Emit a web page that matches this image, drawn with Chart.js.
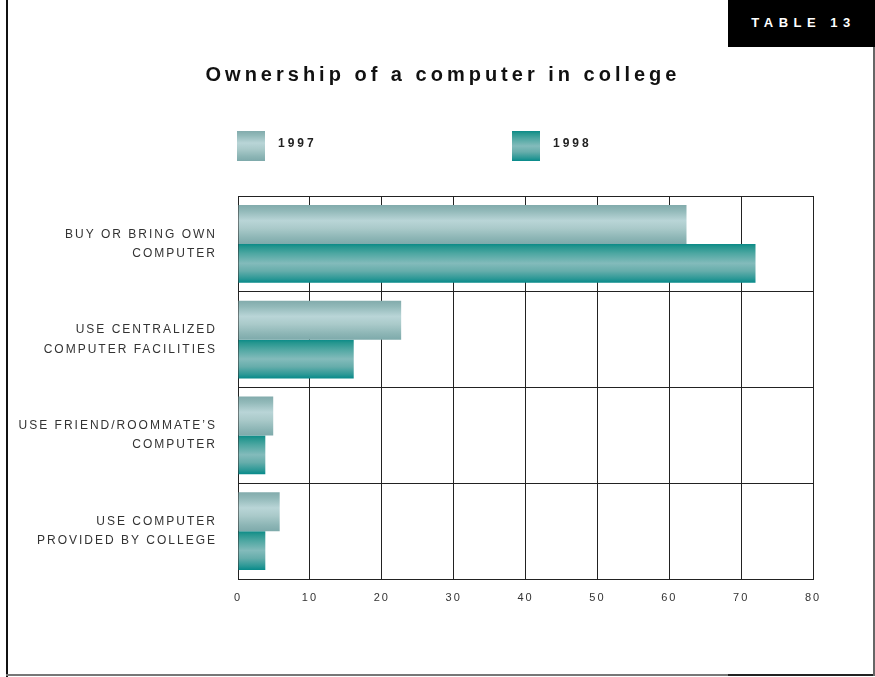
<!DOCTYPE html>
<html>
<head>
<meta charset="utf-8">
<script src="https://cdn.jsdelivr.net/npm/chart.js@4"></script>
<style>
  html, body { margin: 0; padding: 0; background: #fff; }
  #page { position: relative; width: 875px; height: 677px; overflow: hidden; font-family: 'Liberation Sans', Arial, sans-serif; }
  #page canvas { position: absolute; left: 0; top: 0; }
  .frame-left { position: absolute; left: 6px; top: 0; width: 2px; height: 677px; background: #111; }
  .frame-bottom { position: absolute; left: 6px; top: 674px; width: 722px; height: 2px; background: #777; }
  .frame-bottom2 { position: absolute; left: 728px; top: 674px; width: 147px; height: 2px; background: #222; }
  .frame-right { position: absolute; left: 873px; top: 47px; width: 2px; height: 629px; background: #666; }
  .tag { position: absolute; left: 728px; top: 0; width: 147px; height: 47px; background: #000; color: #fff;
         font-weight: bold; font-size: 13px; letter-spacing: 5.5px; line-height: 46px; text-align: center; text-indent: 4px; }
  .title { position: absolute; left: 0; width: 886px; top: 63px; text-align: center; font-weight: bold;
           font-size: 20px; letter-spacing: 4px; color: #111; }
  .legend { position: absolute; top: 131px; height: 30px; display: flex; align-items: flex-start; }
  .legend .sw { width: 28px; height: 30px; margin-right: 13px; }
  .legend span { font-weight: bold; font-size: 12px; letter-spacing: 3px; color: #222; margin-top: 5px; }
</style>
</head>
<body>
<div id="page">
  <canvas id="chart" width="875" height="677"></canvas>
  <div class="frame-left"></div>
  <div class="frame-bottom"></div>
  <div class="frame-bottom2"></div>
  <div class="frame-right"></div>
  <div class="tag">TABLE 13</div>
  <div class="title">Ownership of a computer in college</div>
  <div class="legend" style="left:237px"><div class="sw" id="sw0"></div><span id="lg0"></span></div>
  <div class="legend" style="left:512px"><div class="sw" id="sw1"></div><span id="lg1"></span></div>
</div>
<script>
const categories = [
  ['BUY OR BRING OWN', 'COMPUTER'],
  ['USE CENTRALIZED', 'COMPUTER FACILITIES'],
  ['USE FRIEND/ROOMMATE\u2019S', 'COMPUTER'],
  ['USE COMPUTER', 'PROVIDED BY COLLEGE']
];
const seriesNames = ['1997', '1998'];
const values1997 = [62.4, 22.7, 4.9, 5.8];
const values1998 = [72.0, 16.1, 3.8, 3.8];
const xTicks = [0, 10, 20, 30, 40, 50, 60, 70, 80];

// gradient stops per series (top -> bottom of each bar)
const stops = [
  [[0, '#82abac'], [0.15, '#92b9b9'], [0.4, '#b9d5d7'], [0.6, '#aacaca'], [0.85, '#8cb5b5'], [1, '#7eaaab']],
  [[0, '#0a8a87'], [0.08, '#25968f'], [0.25, '#4ea7a2'], [0.5, '#83bbbb'], [0.7, '#66adab'], [0.9, '#2b9896'], [1, '#078a8a']]
];

stops.forEach((s, i) => {
  document.getElementById('sw' + i).style.background =
    'linear-gradient(to bottom, ' + s.map(p => p[1] + ' ' + (p[0] * 100) + '%').join(', ') + ')';
  document.getElementById('lg' + i).textContent = seriesNames[i];
});

const barGradient = {
  id: 'barGradient',
  beforeDraw(chart) {
    chart.ctx.letterSpacing = '2px';
  },
  beforeDatasetsDraw(chart) {
    const ctx = chart.ctx;
    chart.data.datasets.forEach((ds, i) => {
      chart.getDatasetMeta(i).data.forEach(el => {
        const top = el.y - el.height / 2;
        const g = ctx.createLinearGradient(0, top, 0, top + el.height);
        stops[i].forEach(p => g.addColorStop(p[0], p[1]));
        el.options.backgroundColor = g;
      });
    });
  }
};

new Chart(document.getElementById('chart'), {
  type: 'bar',
  data: {
    labels: categories,
    datasets: [
      { label: seriesNames[0], data: values1997, backgroundColor: () => '#9cc' },
      { label: seriesNames[1], data: values1998, backgroundColor: () => '#199' }
    ]
  },
  options: {
    indexAxis: 'y',
    responsive: false,
    animation: false,
    events: [],
    categoryPercentage: 0.81,
    barPercentage: 1.0,
    layout: { padding: { top: 196, right: 62, bottom: 0, left: 0 } },
    plugins: { legend: { display: false }, tooltip: { enabled: false } },
    scales: {
      x: {
        min: 0, max: 80,
        afterBuildTicks: s => { s.ticks = xTicks.map(v => ({ value: v })); },
        afterFit: s => { s.height = 98; },
        grid: { color: '#222', lineWidth: 1, drawTicks: false },
        border: { color: '#222', width: 1 },
        ticks: { padding: 12, color: '#333', font: { family: 'Liberation Sans', size: 11 } }
      },
      y: {
        afterFit: s => { s.width = 238; },
        grid: { color: '#222', lineWidth: 1, drawTicks: false },
        border: { color: '#222', width: 1 },
        ticks: { padding: 21, color: '#333', font: { family: 'Liberation Sans', size: 12, lineHeight: 1.6 } }
      }
    }
  },
  plugins: [barGradient]
});
</script>
</body>
</html>
